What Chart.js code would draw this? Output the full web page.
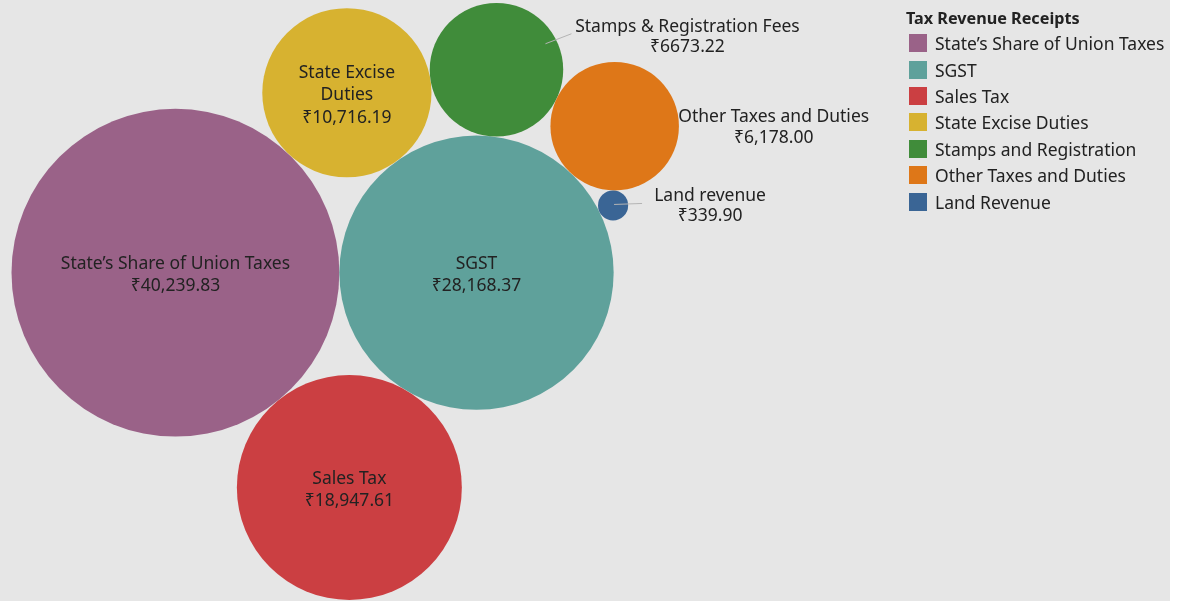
<!DOCTYPE html>
<html>
<head>
<meta charset="utf-8">
<script src="https://cdn.jsdelivr.net/npm/chart.js@4"></script>
<style>
  body { margin: 0; background: #fff; font-family: "Noto Sans", sans-serif; }
  #wrap { position: relative; width: 1170px; height: 601px; background: #e6e6e6; }
  #legend { position: absolute; left: 906px; top: 7px; color: #222; font-size: 17.5px; }
  #legend .title { font-weight: bold; font-size: 16.2px; margin-bottom: 1px; }
  #legend .item { display: flex; align-items: center; height: 26.4px; }
  #legend .sw { width: 18px; height: 18px; margin: 0 8px 0 3px; }
</style>
</head>
<body>
<div id="wrap">
  <canvas id="chart" width="1170" height="601"></canvas>
  <div id="legend"></div>
</div>
<script>
// tax revenue receipts (₹ crore)
const categories = ['State\u2019s Share of Union Taxes', 'SGST', 'Sales Tax', 'State Excise Duties',
                    'Stamps and Registration', 'Other Taxes and Duties', 'Land Revenue'];
const values = [40239.83, 28168.37, 18947.61, 10716.19, 6673.22, 6178.00, 339.90];
// text shown on / next to the bubbles
const bubbleNames = [['State\u2019s Share of Union Taxes'], ['SGST'], ['Sales Tax'], ['State Excise', 'Duties'],
                     ['Stamps & Registration Fees'], ['Other Taxes and Duties'], ['Land revenue']];
const valueLabels = ['\u20b940,239.83', '\u20b928,168.37', '\u20b918,947.61', '\u20b910,716.19',
                     '\u20b96673.22', '\u20b96,178.00', '\u20b9339.90'];
const colors = ['#9a6288', '#5fa19b', '#cb3f42', '#d7b230', '#408c3a', '#de7718', '#3a6595'];

// labels that sit outside their bubble (offsets from bubble centre, px)
const outsideLabels = {
    4: { dx: 191, dy: -35, line: [49, -26, 75, -36] },
    5: { dx: 159, dy: -1 },
    6: { dx: 97, dy: -2, line: [1, -1, 29, -2] }
};

const W = 1170, H = 601;

// place c touching a and b, on the left of a->b (y down)
function placeTangent(a, b, c) {
    const dx = b.x - a.x, dy = b.y - a.y, d = Math.hypot(dx, dy);
    const ra = a.r + c.r, rb = b.r + c.r;
    const t = (d * d + ra * ra - rb * rb) / (2 * d);
    const h = Math.sqrt(Math.max(0, ra * ra - t * t));
    c.x = a.x + (t * dx + h * dy) / d;
    c.y = a.y + (t * dy - h * dx) / d;
}

// simple front-chain packing: first two side by side, third under them,
// the rest spiral round the second one
function packBubbles(vals) {
    const c = vals.map(v => ({ r: Math.sqrt(v), x: 0, y: 0 }));
    c[0].x = -c[1].r; c[1].x = c[0].r;
    placeTangent(c[1], c[0], c[2]);
    let a = c[0];
    const b = c[1];
    for (let i = 3; i < c.length; i++) {
        placeTangent(a, b, c[i]);
        a = c[i];
    }
    // fit into the view
    const minX = Math.min(...c.map(p => p.x - p.r));
    const minY = Math.min(...c.map(p => p.y - p.r));
    const maxY = Math.max(...c.map(p => p.y + p.r));
    const s = (H - 4) / (maxY - minY);
    return c.map(p => ({ x: 11.5 + (p.x - minX) * s, y: 3 + (p.y - minY) * s, r: p.r * s }));
}

const bubbles = packBubbles(values);

const labelPlugin = {
    id: 'bubbleLabels',
    afterDatasetsDraw(chart) {
        const ctx = chart.ctx;
        const meta = chart.getDatasetMeta(0);
        ctx.save();
        ctx.font = '17.5px "Noto Sans"';
        ctx.textAlign = 'center';
        ctx.textBaseline = 'middle';
        meta.data.forEach((el, i) => {
            const lines = bubbleNames[i].concat(valueLabels[i]);
            let cx = el.x, cy = el.y + 2.5, lh = 22.5;
            const out = outsideLabels[i];
            if (out) {
                if (out.line) {
                    ctx.strokeStyle = '#b4b4b4';
                    ctx.lineWidth = 1;
                    ctx.beginPath();
                    ctx.moveTo(el.x + out.line[0], el.y + out.line[1]);
                    ctx.lineTo(el.x + out.line[2], el.y + out.line[3]);
                    ctx.stroke();
                }
                cx += out.dx; cy += out.dy;
                lh = 20.5;
            }
            ctx.fillStyle = '#222';
            const top = cy - (lines.length - 1) * lh / 2;
            lines.forEach((t, j) => ctx.fillText(t, cx, top + j * lh));
        });
        ctx.restore();
    }
};

new Chart(document.getElementById('chart'), {
    type: 'bubble',
    data: {
        labels: categories,
        datasets: [{
            data: bubbles,
            backgroundColor: colors,
            hoverBackgroundColor: colors,
            borderWidth: 0,
            hoverBorderWidth: 0,
            clip: false
        }]
    },
    options: {
        responsive: false,
        animation: false,
        layout: { padding: 0, autoPadding: false },
        scales: {
            x: { display: false, min: 0, max: W },
            y: { display: false, min: 0, max: H, reverse: true }
        },
        plugins: {
            legend: { display: false },
            tooltip: { enabled: false }
        }
    },
    plugins: [labelPlugin]
});

// legend
const legendEl = document.getElementById('legend');
legendEl.innerHTML = '<div class="title">Tax Revenue Receipts</div>' +
    categories.map((c, i) => `<div class="item"><span class="sw" style="background:${colors[i]}"></span>${c}</div>`).join('');
</script>
</body>
</html>
